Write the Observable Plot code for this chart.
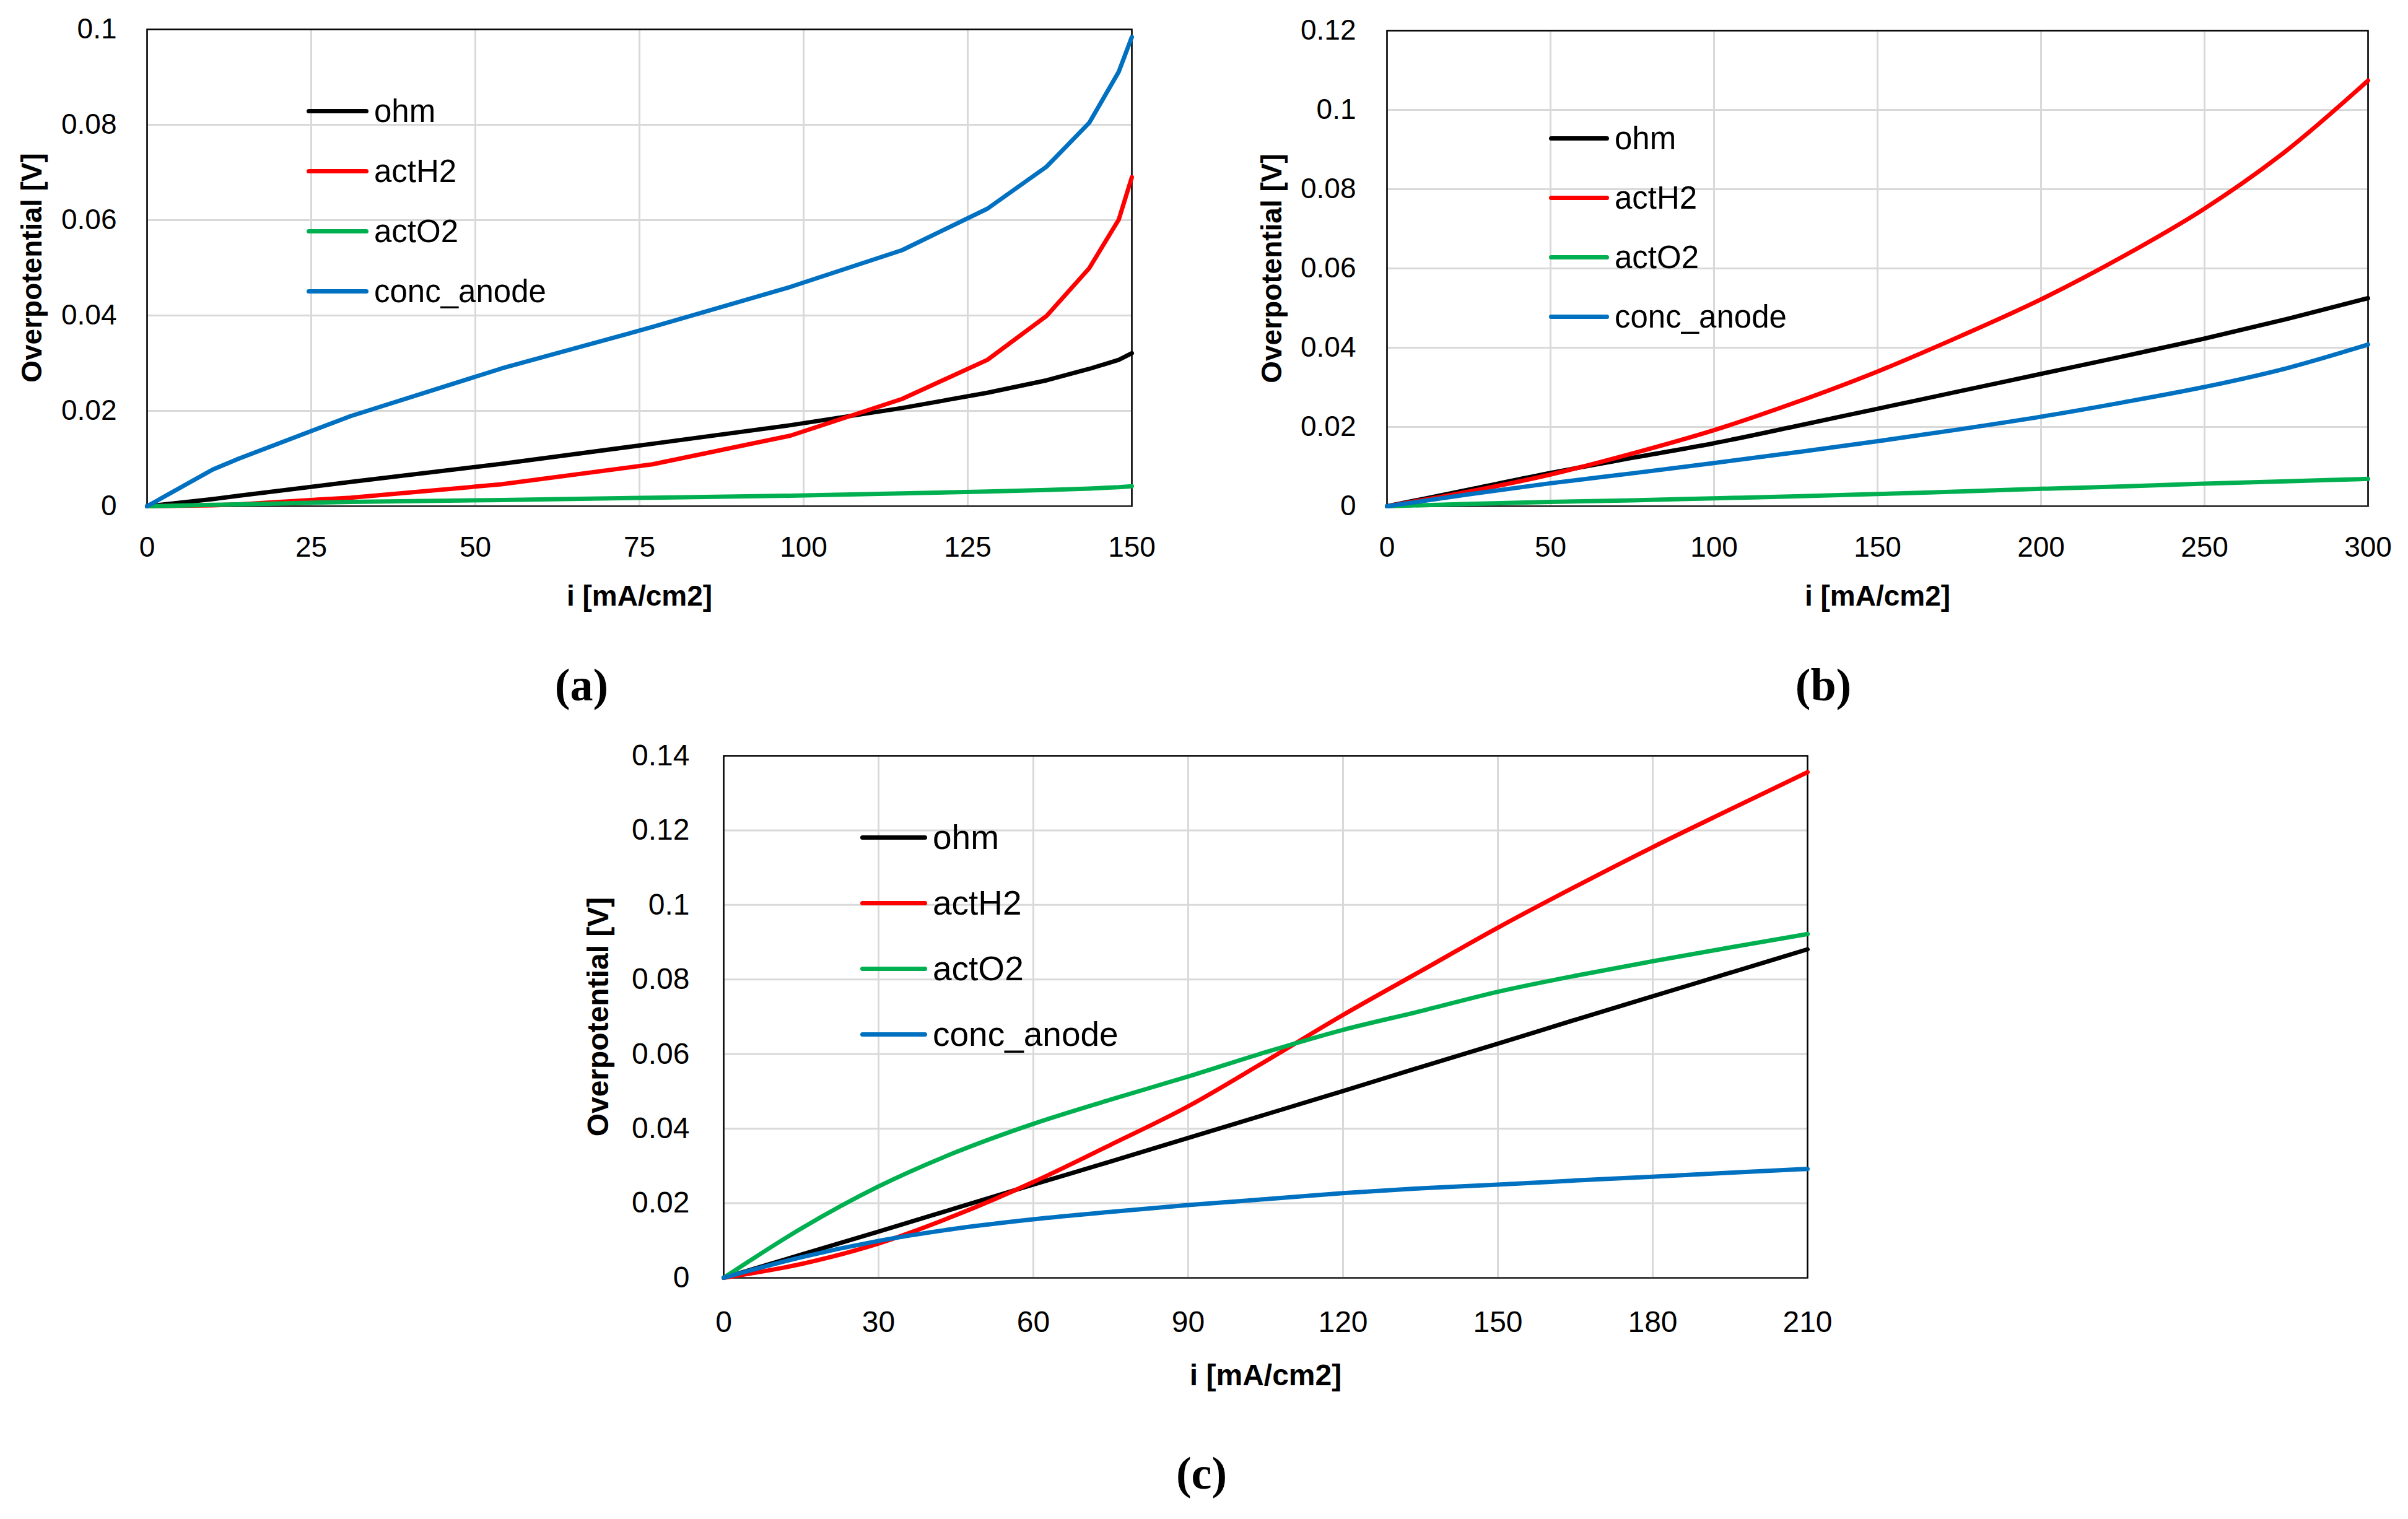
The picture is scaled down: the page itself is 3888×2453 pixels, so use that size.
<!DOCTYPE html>
<html>
<head>
<meta charset="utf-8">
<title>Overpotential vs current density</title>
<script src="https://cdn.jsdelivr.net/npm/d3@7"></script>
<script src="https://cdn.jsdelivr.net/npm/@observablehq/plot@0.6"></script>
<style>
  html, body { margin: 0; padding: 0; background: #fff; }
  #page { position: relative; width: 3888px; height: 2453px; overflow: hidden; background: #fff;
          font-family: "Liberation Sans", Arial, sans-serif; color: #000; }
  .panel { position: absolute; }
  .panel svg { display: block; overflow: visible; }
  .legend-item { position: absolute; display: flex; align-items: center; white-space: nowrap; height: 80px; }
  .swatch { display: inline-block; height: 7px; border-radius: 4px; }
  .tag { position: absolute; font-family: "Liberation Serif", "DejaVu Serif", serif; font-weight: bold;
         line-height: 1; transform: translateX(-50%); }
</style>
</head>
<body>
<div id="page"></div>
<script>
/* global d3, Plot */
// series shared by all three panels
var seriesNames = ["ohm", "actH2", "actO2", "conc_anode"];
var seriesColors = ["#000000", "#ff0000", "#00b050", "#0070c0"];

// (a) 0-150 mA/cm2
var iA = [0, 10, 14, 31, 54, 77, 98, 115, 128, 137, 143.5, 148, 150];
var ohmA = [0, 0.0015, 0.0022, 0.0051, 0.0089, 0.0131, 0.0170, 0.0206, 0.0238, 0.0264, 0.0288, 0.0307, 0.0321];
var actH2A = [0, 0.0002, 0.0004, 0.0018, 0.0046, 0.0088, 0.0148, 0.0225, 0.0307, 0.0399, 0.0499, 0.0601, 0.0690];
var actO2A = [0, 0.0003, 0.0004, 0.0009, 0.0013, 0.0018, 0.0022, 0.0027, 0.0031, 0.0034, 0.0037, 0.0040, 0.0042];
var concA = [0, 0.0077, 0.0100, 0.0189, 0.0289, 0.0376, 0.0460, 0.0537, 0.0624, 0.0712, 0.0804, 0.0911, 0.0984];
var xTicksA = [0, 25, 50, 75, 100, 125, 150];
var yTicksA = [0, 0.02, 0.04, 0.06, 0.08, 0.1];

// (b) 0-300 mA/cm2
var iB = [0, 25, 50, 75, 100, 125, 150, 175, 200, 225, 250, 275, 300];
var ohmB = [0, 0.0042, 0.0084, 0.0122, 0.0159, 0.0202, 0.0246, 0.0290, 0.0334, 0.0378, 0.0423, 0.0472, 0.0525];
var actH2B = [0, 0.0037, 0.0080, 0.0133, 0.0192, 0.0262, 0.0340, 0.0428, 0.0522, 0.0630, 0.0751, 0.0897, 0.1074];
var actO2B = [0, 0.0006, 0.0011, 0.0015, 0.0020, 0.0025, 0.0031, 0.0037, 0.0044, 0.0050, 0.0057, 0.0063, 0.0069];
var concB = [0, 0.0030, 0.0058, 0.0083, 0.0109, 0.0136, 0.0164, 0.0194, 0.0226, 0.0262, 0.0301, 0.0348, 0.0408];
var xTicksB = [0, 50, 100, 150, 200, 250, 300];
var yTicksB = [0, 0.02, 0.04, 0.06, 0.08, 0.1, 0.12];

// (c) 0-210 mA/cm2
var iC = [0, 15, 30, 45, 60, 75, 90, 105, 120, 135, 150, 165, 180, 195, 210];
var ohmC = [0, 0.0062, 0.0124, 0.0187, 0.0250, 0.0312, 0.0375, 0.0438, 0.0501, 0.0565, 0.0628, 0.0692, 0.0755, 0.0818, 0.0881];
var actH2C = [0, 0.0037, 0.0092, 0.0168, 0.0257, 0.0357, 0.0460, 0.0581, 0.0705, 0.0822, 0.0939, 0.1049, 0.1155, 0.1256, 0.1356];
var actO2C = [0, 0.0132, 0.0245, 0.0337, 0.0413, 0.0478, 0.0540, 0.0605, 0.0665, 0.0715, 0.0767, 0.0810, 0.0849, 0.0886, 0.0922];
var concC = [0, 0.0055, 0.0099, 0.0132, 0.0157, 0.0177, 0.0195, 0.0211, 0.0227, 0.0240, 0.0250, 0.0261, 0.0271, 0.0282, 0.0292];
var xTicksC = [0, 30, 60, 90, 120, 150, 180, 210];
var yTicksC = [0, 0.02, 0.04, 0.06, 0.08, 0.1, 0.12, 0.14];

var xTitle = "i [mA/cm2]";
var yTitle = "Overpotential [V]";

(function() {
  "use strict";
  var page = document.getElementById("page");
  var fmt = d3.format("~g");

  function toRows(xs, columns) {
    var rows = [];
    columns.forEach(function(values, k) {
      values.forEach(function(v, j) {
        rows.push({ i: xs[j], v: v, series: seriesNames[k] });
      });
    });
    return rows;
  }

  function addLegend(cfg) {
    seriesNames.forEach(function(name, k) {
      var item = document.createElement("div");
      var swatch = document.createElement("span");
      var label = document.createElement("span");
      item.className = "legend-item";
      item.style.left = cfg.legendLeft + "px";
      item.style.top = (cfg.legendTop + k * cfg.legendStep - 40) + "px";
      swatch.className = "swatch";
      swatch.style.width = cfg.swatchWidth + "px";
      swatch.style.background = seriesColors[k];
      label.textContent = name;
      label.style.fontSize = cfg.legendFont + "px";
      label.style.marginLeft = "9px";
      item.appendChild(swatch);
      item.appendChild(label);
      page.appendChild(item);
    });
  }

  function addTag(text, cx, top) {
    var tag = document.createElement("div");
    tag.className = "tag";
    tag.textContent = text;
    tag.style.left = cx + "px";
    tag.style.top = top + "px";
    tag.style.fontSize = "74px";
    page.appendChild(tag);
  }

  function drawPanel(cfg) {
    var rows = toRows(cfg.xs, cfg.columns);
    var holder = document.createElement("div");
    var plot = Plot.plot({
      width: cfg.width,
      height: cfg.height,
      marginLeft: cfg.ml,
      marginRight: cfg.mr,
      marginTop: cfg.mt,
      marginBottom: cfg.mb,
      style: { fontFamily: "'Liberation Sans', Arial, sans-serif", background: "#fff", color: "#000" },
      x: { domain: cfg.xDomain },
      y: { domain: cfg.yDomain },
      color: { domain: seriesNames, range: seriesColors },
      marks: [
        Plot.gridX(cfg.xTicks, { stroke: "#d9d9d9", strokeOpacity: 1, strokeWidth: 3 }),
        Plot.gridY(cfg.yTicks, { stroke: "#d9d9d9", strokeOpacity: 1, strokeWidth: 3 }),
        Plot.frame({ stroke: "#000", strokeWidth: 2.5 }),
        Plot.ruleY([0], { stroke: "#3a3a3a", strokeWidth: 3 }),
        Plot.axisX({
          ticks: cfg.xTicks, tickSize: 0, tickPadding: cfg.xPad, fontSize: cfg.tickFont,
          label: xTitle, labelAnchor: "center", labelArrow: "none", labelOffset: cfg.xLabelOffset
        }),
        Plot.axisY({
          ticks: cfg.yTicks, tickSize: 0, tickPadding: cfg.yPad, fontSize: cfg.tickFont,
          tickFormat: fmt,
          label: yTitle, labelAnchor: "center", labelArrow: "none", labelOffset: cfg.yLabelOffset
        }),
        Plot.line(rows, {
          x: "i", y: "v", z: "series", stroke: "series",
          strokeWidth: 7, curve: cfg.curve
        })
      ]
    });

    holder.className = "panel";
    holder.style.left = cfg.left + "px";
    holder.style.top = cfg.top + "px";
    holder.appendChild(plot);
    page.appendChild(holder);

    // bold axis titles, a touch larger than the ticks
    d3.select(plot).selectAll('g[aria-label="x-axis label"] text, g[aria-label="y-axis label"] text')
      .attr("font-size", cfg.titleFont)
      .attr("font-weight", "bold");

    addLegend(cfg);
    addTag(cfg.tag, cfg.tagX, cfg.tagTop);
  }

  drawPanel({
    tag: "(a)", tagX: 939, tagTop: 1069,
    left: 0, top: 0, width: 1880, height: 1000,
    ml: 237, mr: 53, mt: 47, mb: 183,
    xs: iA, columns: [ohmA, actH2A, actO2A, concA],
    xDomain: [0, 150], yDomain: [0, 0.1], xTicks: xTicksA, yTicks: yTicksA,
    tickFont: 46, titleFont: 46, xPad: 49, yPad: 49, xLabelOffset: 160, yLabelOffset: 203,
    curve: "linear",
    legendLeft: 495, legendTop: 179, legendStep: 97, swatchWidth: 100, legendFont: 51
  });

  drawPanel({
    tag: "(b)", tagX: 2944, tagTop: 1069,
    left: 1944, top: 0, width: 1944, height: 1000,
    ml: 295, mr: 65, mt: 49, mb: 183,
    xs: iB, columns: [ohmB, actH2B, actO2B, concB],
    xDomain: [0, 300], yDomain: [0, 0.12], xTicks: xTicksB, yTicks: yTicksB,
    tickFont: 46, titleFont: 46, xPad: 49, yPad: 50, xLabelOffset: 160, yLabelOffset: 203,
    curve: "monotone-x",
    legendLeft: 2501, legendTop: 223, legendStep: 96.3, swatchWidth: 97, legendFont: 51
  });

  drawPanel({
    tag: "(c)", tagX: 1940, tagTop: 2342,
    left: 900, top: 1150, width: 2100, height: 1050,
    ml: 268, mr: 82, mt: 70, mb: 137,
    xs: iC, columns: [ohmC, actH2C, actO2C, concC],
    xDomain: [0, 210], yDomain: [0, 0.14], xTicks: xTicksC, yTicks: yTicksC,
    tickFont: 48, titleFont: 48, xPad: 53, yPad: 55, xLabelOffset: 173, yLabelOffset: 221,
    curve: "monotone-x",
    legendLeft: 1389, legendTop: 1352, legendStep: 106, swatchWidth: 108, legendFont: 55
  });
}).call(this);
</script>
</body>
</html>
